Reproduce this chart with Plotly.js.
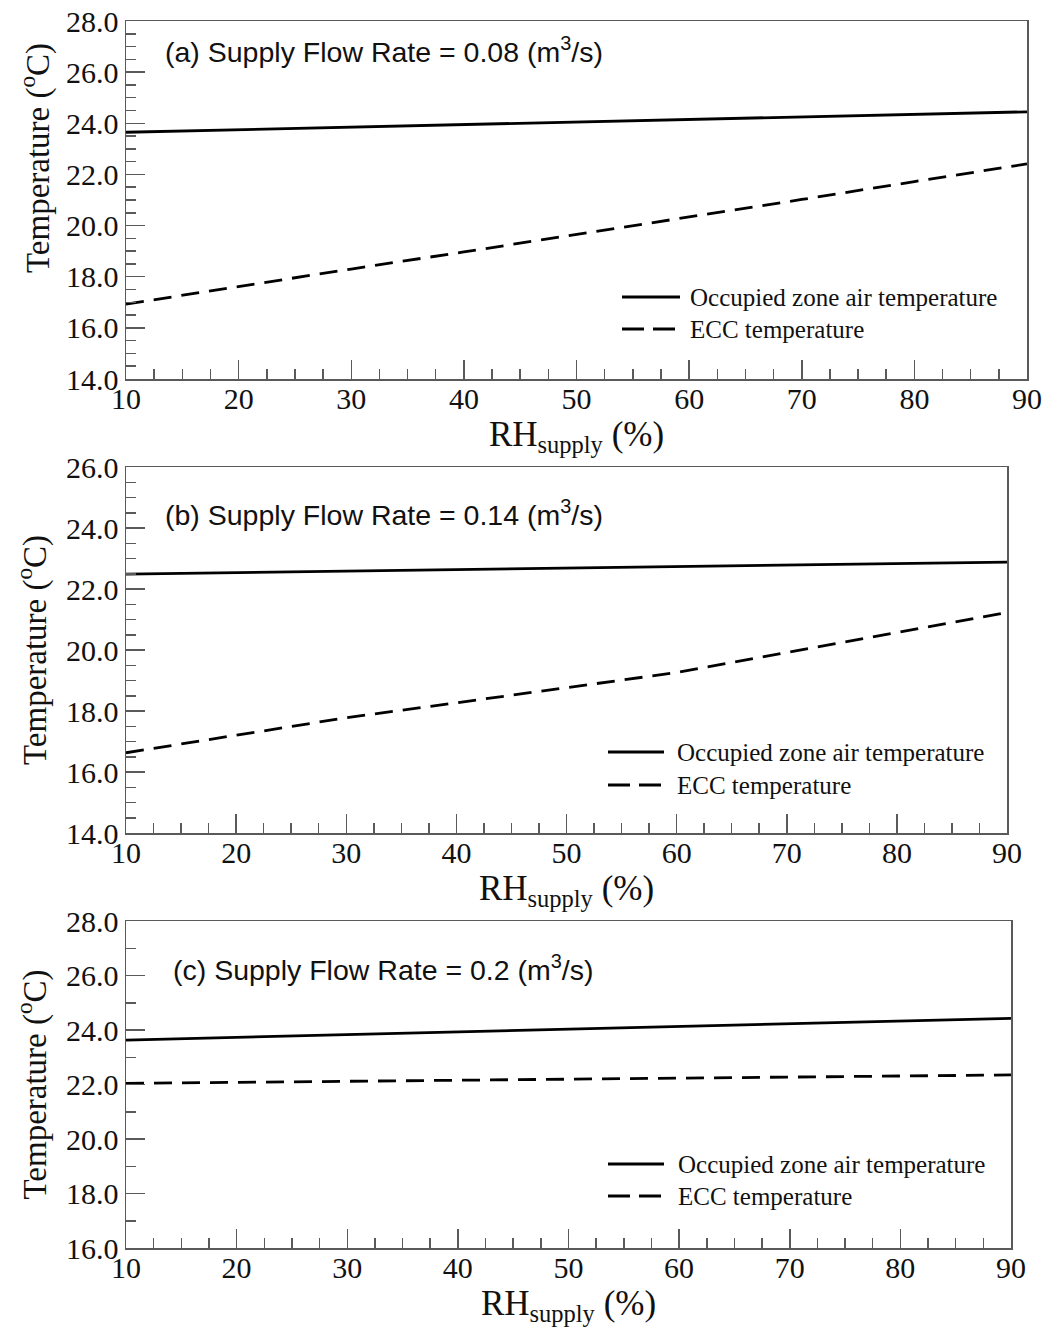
<!DOCTYPE html>
<html>
<head>
<meta charset="utf-8">
<script src="https://cdn.plot.ly/plotly-3.0.1.min.js"></script>
<style>
  html, body { margin: 0; padding: 0; background: #ffffff; }
  #chart { width: 1051px; height: 1331px; }
</style>
</head>
<body>
<div id="chart"></div>
<script>
// ---------------- data ----------------
const rhSupply = [10, 20, 30, 40, 50, 60, 70, 80, 90];

// (a) Supply flow rate = 0.08 m3/s
const occupiedA = [23.65, 23.75, 23.85, 23.95, 24.05, 24.15, 24.25, 24.35, 24.45];
const eccA      = [16.93, 17.62, 18.30, 18.97, 19.65, 20.32, 21.02, 21.72, 22.41];

// (b) Supply flow rate = 0.14 m3/s
const occupiedB = [22.49, 22.54, 22.59, 22.64, 22.69, 22.74, 22.79, 22.84, 22.88];
const eccB      = [16.63, 17.20, 17.78, 18.27, 18.77, 19.26, 19.92, 20.57, 21.23];

// (c) Supply flow rate = 0.2 m3/s
const occupiedC = [23.63, 23.73, 23.83, 23.93, 24.03, 24.13, 24.23, 24.33, 24.43];
const eccC      = [22.04, 22.08, 22.12, 22.16, 22.20, 22.24, 22.27, 22.31, 22.35];

const seriesNames = ['Occupied zone air temperature', 'ECC temperature'];
const panelLabels = [
  '(a) Supply Flow Rate = 0.08 (m<sup>3</sup>/s)',
  '(b) Supply Flow Rate = 0.14 (m<sup>3</sup>/s)',
  '(c) Supply Flow Rate = 0.2 (m<sup>3</sup>/s)'
];
const yRanges = [[14, 28], [14, 26], [16, 28]];
const yMinorSteps = [0.5, 0.5, 1];
const xTitleText = 'RH<sub>supply</sub> (%)';
const yTitleText = 'Temperature (<sup>o</sup>C)';

// ---------------- styling ----------------
const serif = 'Liberation Serif, Times New Roman, serif';
const sans = 'Liberation Sans, Arial, sans-serif';
const axisColor = '#5a5a5a';
const inkColor = '#111111';
const lineDash = '18px,10px';

const occSets = [occupiedA, occupiedB, occupiedC];
const eccSets = [eccA, eccB, eccC];

const traces = [];
for (let i = 0; i < 3; i++) {
  const xa = i === 0 ? 'x' : 'x' + (i + 1);
  const ya = i === 0 ? 'y' : 'y' + (i + 1);
  traces.push({
    x: rhSupply, y: occSets[i], xaxis: xa, yaxis: ya,
    type: 'scatter', mode: 'lines', name: seriesNames[0], showlegend: false,
    line: { color: '#000000', width: 2.8 }
  });
  traces.push({
    x: rhSupply, y: eccSets[i], xaxis: xa, yaxis: ya,
    type: 'scatter', mode: 'lines', name: seriesNames[1], showlegend: false,
    line: { color: '#000000', width: 2.8, dash: lineDash }
  });
}

const W = 1051, H = 1331;
// plot boxes in pixels: [left, right, top, bottom]
const boxes = [
  [126, 1027, 21, 379],
  [126, 1007, 467, 833],
  [126, 1011, 921, 1248]
];

function xAxis(i) {
  const b = boxes[i];
  return {
    domain: [b[0] / W, b[1] / W],
    anchor: i === 0 ? 'y' : 'y' + (i + 1),
    range: [10, 90],
    tickmode: 'linear', tick0: 10, dtick: 10,
    ticks: 'inside', ticklen: 19, tickwidth: 1.5, tickcolor: axisColor,
    ticklabelstandoff: -8,
    minor: { dtick: 2.5, ticks: 'inside', ticklen: 10, tickwidth: 1.5, tickcolor: axisColor, showgrid: false },
    showline: true, linecolor: axisColor, linewidth: 1.5, mirror: true,
    showgrid: false, zeroline: false,
    tickfont: { family: serif, size: 30, color: inkColor },
    title: { text: xTitleText, font: { family: serif, size: 35, color: inkColor }, standoff: 2 },
    automargin: false
  };
}
function yAxis(i) {
  const b = boxes[i];
  return {
    domain: [1 - b[3] / H, 1 - b[2] / H],
    anchor: i === 0 ? 'x' : 'x' + (i + 1),
    range: yRanges[i],
    tickmode: 'linear', tick0: 0, dtick: 2, tickformat: '.1f',
    ticks: 'inside', ticklen: 19, tickwidth: 1.5, tickcolor: axisColor,
    minor: { dtick: yMinorSteps[i], ticks: 'inside', ticklen: 10, tickwidth: 1.5, tickcolor: axisColor, showgrid: false },
    showline: true, linecolor: axisColor, linewidth: 1.5, mirror: true,
    showgrid: false, zeroline: false,
    tickfont: { family: serif, size: 30, color: inkColor },
    title: i === 0
      ? { text: '' }
      : { text: yTitleText, font: { family: serif, size: 33, color: inkColor }, standoff: 9 },
    automargin: false
  };
}

const annPos = [[13.3, 26.87], [13.4, 24.49], [14.1, 26.28]];
const annotations = panelLabels.map((t, i) => ({
  text: t,
  xref: i === 0 ? 'x' : 'x' + (i + 1),
  yref: i === 0 ? 'y' : 'y' + (i + 1),
  x: annPos[i][0], y: annPos[i][1],
  xanchor: 'left', yanchor: 'middle', showarrow: false,
  font: { family: sans, size: 28.5, color: inkColor }
}));

// y-axis title of panel (a): sits higher than the panel centre in the original
annotations.push({
  text: yTitleText, xref: 'paper', yref: 'paper',
  x: 35 / W, y: 1 - 158 / H, xanchor: 'center', yanchor: 'middle',
  textangle: -90, showarrow: false,
  font: { family: serif, size: 33, color: inkColor }
});

// legend drawn inside each panel: sample start/end x, text x, row y's (px)
const legendPos = [
  { x0: 622, x1: 680, tx: 688, rows: [297, 329] },
  { x0: 608, x1: 664, tx: 675, rows: [752, 785] },
  { x0: 608, x1: 664, tx: 676, rows: [1164, 1196] }
];
const shapes = [];
legendPos.forEach(p => {
  p.rows.forEach((ry, k) => {
    shapes.push({
      type: 'line', xref: 'paper', yref: 'paper',
      x0: p.x0 / W, x1: p.x1 / W, y0: 1 - ry / H, y1: 1 - ry / H,
      line: { color: '#000000', width: 2.8, dash: k === 0 ? 'solid' : '22px,9px' }
    });
    annotations.push({
      text: seriesNames[k], xref: 'paper', yref: 'paper',
      x: p.tx / W, y: 1 - ry / H, xanchor: 'left', yanchor: 'middle',
      showarrow: false,
      font: { family: serif, size: 25, color: inkColor }
    });
  });
});

const layout = {
  width: W, height: H,
  margin: { l: 0, r: 0, t: 0, b: 0 },
  paper_bgcolor: '#ffffff', plot_bgcolor: '#ffffff',
  showlegend: false,
  xaxis: xAxis(0), yaxis: yAxis(0),
  xaxis2: xAxis(1), yaxis2: yAxis(1),
  xaxis3: xAxis(2), yaxis3: yAxis(2),
  shapes: shapes,
  annotations: annotations
};

Plotly.newPlot('chart', traces, layout, { displayModeBar: false, staticPlot: true });
</script>
</body>
</html>
